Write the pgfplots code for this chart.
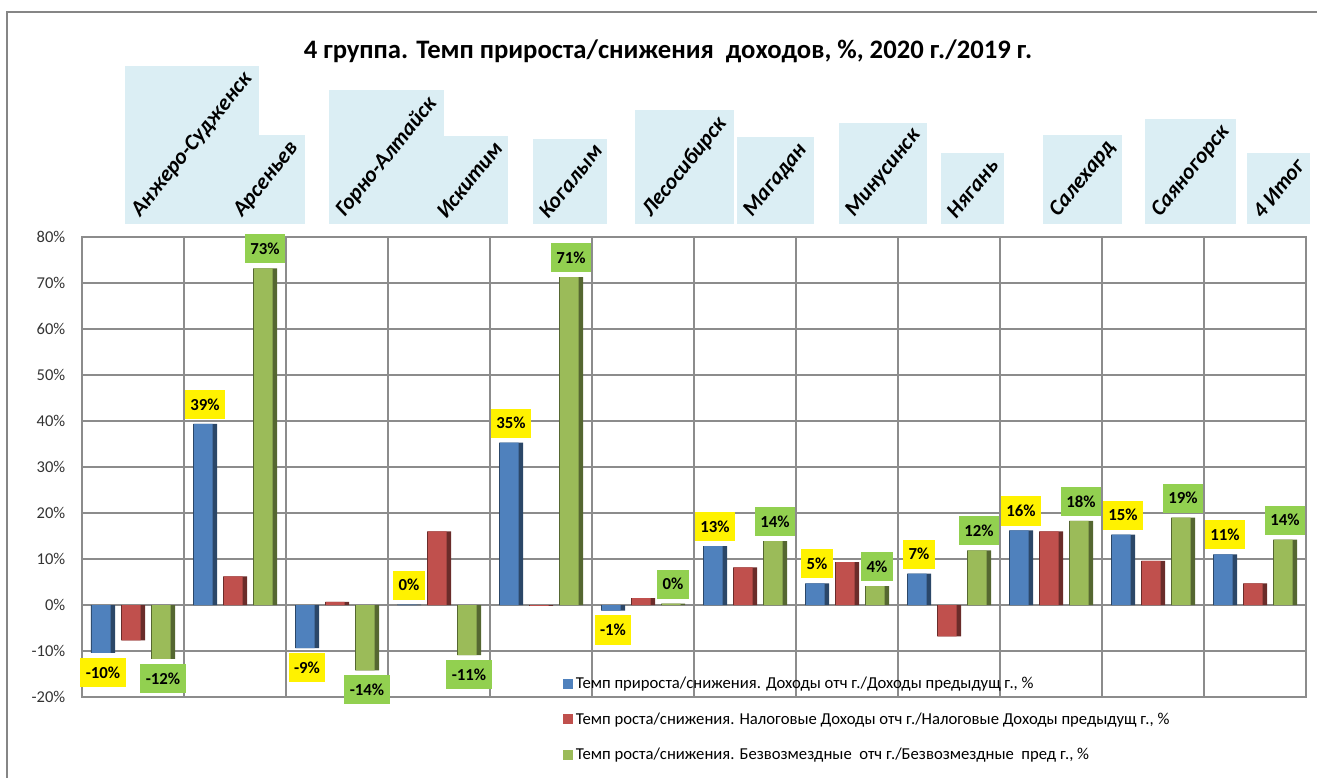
\documentclass[border=0pt]{standalone}
\usepackage{pgfplots}
\pgfplotsset{compat=1.18}
\usepackage{fontspec}
\setmainfont{Carlito}
\definecolor{gridc}{HTML}{8C8C8C}
\definecolor{framec}{HTML}{868686}
\definecolor{sblue}{HTML}{4F81BD}
\definecolor{sred}{HTML}{C0504D}
\definecolor{sgreen}{HTML}{9BBB59}
\definecolor{lblue}{HTML}{DBEEF4}
\definecolor{lgreen}{HTML}{92D050}
\newcommand\rl[1]{\rotatebox{51}{#1}}
\pgfplotstableread{
x blue red green
0 -10.4 -7.7 -11.7
1 39.4 6.2 73.2
2 -9.4 0.7 -14.2
3 0.1 16.0 -10.9
4 35.3 -0.2 71.3
5 -1.2 1.5 0.3
6 12.8 8.2 13.9
7 4.7 9.3 4.1
8 6.8 -6.8 11.9
9 16.2 16.0 18.3
10 15.3 9.6 19.0
11 11.0 4.7 14.2
}\data
\begin{document}
\begin{tikzpicture}
\draw[framec, line width=1.5pt] (5.25pt,-9pt) rectangle (1000pt,-600pt);
\node[font=\bfseries\fontsize{20}{24}\selectfont] at (501pt,-38.5pt) {4 группа. Темп прироста/снижения~ доходов, \%, 2020 г./2019 г.};
\begin{axis}[
  at={(61.5pt,-522.75pt)}, anchor=south west,
  scale only axis, width=918pt, height=345pt,
  xmin=-0.5, xmax=11.5, ymin=-20, ymax=80,
  /pgf/number format/assume math mode=true,
  ytick={-20,-10,...,80},
  yticklabel={\pgfmathprintnumber{\tick}\%},
  yticklabel style={font=\fontsize{12.4}{14}\selectfont, text=black!80, xshift=-9pt},
  xtick={0,...,11},
  xticklabels={\rl{Анжеро-Судженск},\rl{Арсеньев},\rl{Горно-Алтайск},\rl{Искитим},\rl{Когалым},\rl{Лесосибирск},\rl{Магадан},\rl{Минусинск},\rl{Нягань},\rl{Салехард},\rl{Саяногорск},\rl{4 Итог}},
  xticklabel pos=upper,
  xticklabel style={fill=lblue, anchor=south west, inner sep=3pt, xshift=-6pt, yshift=9.75pt, font=\bfseries\itshape\fontsize{16.5}{18}\selectfont},
  minor xtick={0.5,1.5,...,10.5},
  xminorgrids, ymajorgrids,
  major tick length=0pt, minor tick length=0pt,
  grid style={gridc, line width=1.1pt},
  minor grid style={gridc, line width=1.1pt},
  axis line style={gridc, line width=1.1pt},
  legend style={at={(0.393,0.05)}, anchor=north west, draw=none, fill=none, font=\fontsize{12.5}{14}\selectfont, row sep=12.5pt, inner sep=0pt},
  legend cell align=left,
]
\addplot[ybar, bar width=18pt, bar shift=-22.5pt, draw=none, fill=sblue!55!black, forget plot] table[x=x,y=blue] {\data};
\addplot[ybar, bar width=14pt, bar shift=-23.75pt, draw=none, fill=sblue,
  legend image code/.code={\fill[sblue] (0pt,-3.75pt) rectangle (7.5pt,3.75pt);}] table[x=x,y=blue] {\data};
\addplot[ybar, bar width=18pt, bar shift=0pt, draw=none, fill=sred!55!black, forget plot] table[x=x,y=red] {\data};
\addplot[ybar, bar width=14pt, bar shift=-1.25pt, draw=none, fill=sred,
  legend image code/.code={\fill[sred] (0pt,-3.75pt) rectangle (7.5pt,3.75pt);}] table[x=x,y=red] {\data};
\addplot[ybar, bar width=18pt, bar shift=22.5pt, draw=none, fill=sgreen!55!black, forget plot] table[x=x,y=green] {\data};
\addplot[ybar, bar width=14pt, bar shift=21.25pt, draw=none, fill=sgreen,
  legend image code/.code={\fill[sgreen] (0pt,-3.75pt) rectangle (7.5pt,3.75pt);}] table[x=x,y=green] {\data};
\addplot[ybar, bar width=18pt, bar shift=-22.5pt, draw=none, fill=none, forget plot,
  nodes near coords={\pgfmathprintnumber[fixed,precision=0]{\pgfplotspointmeta}\%},
  nodes near coords align=vertical,
  every node near coord/.append style={xshift=-22.5pt, fill=yellow, text=black, font=\bfseries\fontsize{12.6}{14}\selectfont, inner xsep=4pt, inner ysep=6.5pt, outer sep=3.7pt}]
  table[x=x,y=blue] {\data};
\addplot[ybar, bar width=18pt, bar shift=22.5pt, draw=none, fill=none, forget plot,
  nodes near coords={\pgfmathprintnumber[fixed,precision=0]{\pgfplotspointmeta}\%},
  nodes near coords align=vertical,
  every node near coord/.append style={xshift=22.5pt, fill=lgreen, text=black, font=\bfseries\fontsize{12.6}{14}\selectfont, inner xsep=4pt, inner ysep=6.5pt, outer sep=3.7pt}]
  table[x=x,y=green] {\data};
\legend{{Темп прироста/снижения. Доходы отч г./Доходы предыдущ г., \%},
{Темп роста/снижения. Налоговые Доходы отч г./Налоговые Доходы предыдущ г., \%},
{Темп роста/снижения. Безвозмездные~ отч г./Безвозмездные~ пред г., \%}}
\end{axis}
\pgfresetboundingbox
\path (0pt,0pt) rectangle (987.75pt,-583.5pt);
\end{tikzpicture}
\end{document}
